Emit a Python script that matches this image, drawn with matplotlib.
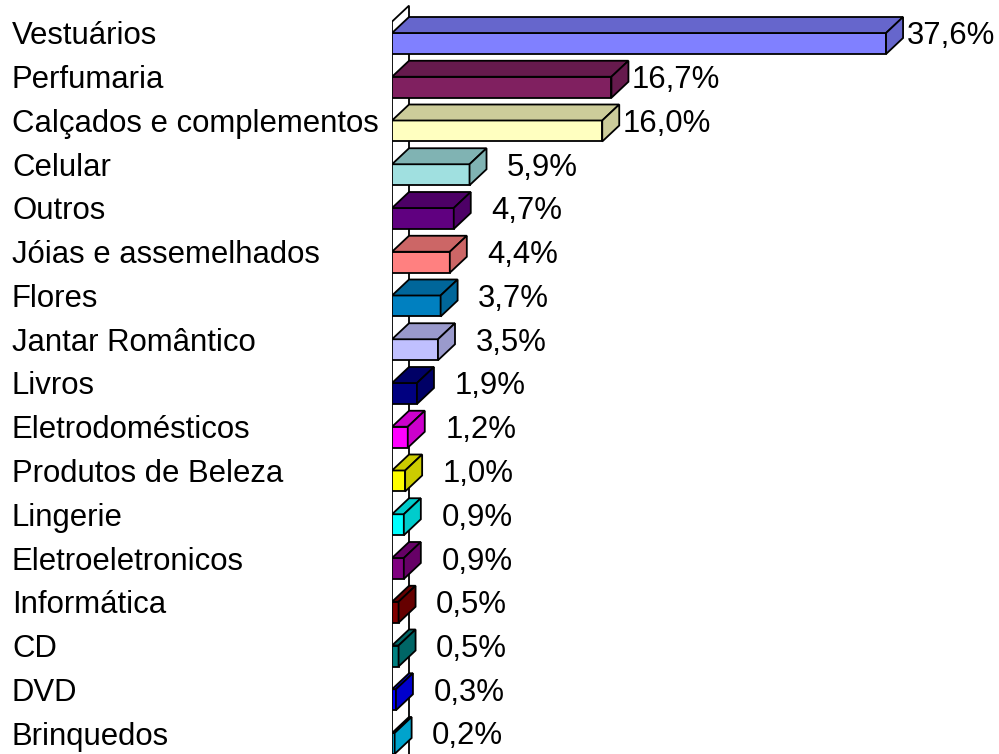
import matplotlib
matplotlib.use("Agg")
import matplotlib.pyplot as plt
from matplotlib.patches import Polygon
from matplotlib.colors import to_rgb
from matplotlib.transforms import blended_transform_factory

categories = ["Vestuários", "Perfumaria", "Calçados e complementos", "Celular",
              "Outros", "Jóias e assemelhados", "Flores", "Jantar Romântico",
              "Livros", "Eletrodomésticos", "Produtos de Beleza", "Lingerie",
              "Eletroeletronicos", "Informática", "CD", "DVD", "Brinquedos"]
values = [37.6, 16.7, 16.0, 5.9, 4.7, 4.4, 3.7, 3.5, 1.9, 1.2, 1.0, 0.9,
          0.9, 0.5, 0.5, 0.3, 0.2]
value_labels = ["37,6%", "16,7%", "16,0%", "5,9%", "4,7%", "4,4%", "3,7%",
                "3,5%", "1,9%", "1,2%", "1,0%", "0,9%", "0,9%", "0,5%",
                "0,5%", "0,3%", "0,2%"]
colors = ["#8080FF", "#802060", "#FFFFC0", "#A0E0E0", "#600080", "#FF8080",
          "#0080C0", "#C0C0FF", "#000080", "#FF00FF", "#FFFF00", "#00FFFF",
          "#800080", "#800000", "#008080", "#0000FF", "#00CCFF"]

plt.rcParams['font.family'] = ['Liberation Sans', 'DejaVu Sans']

W, H = 999, 754
fig = plt.figure(figsize=(W / 100, H / 100), dpi=100)
x0_px = 392
px_per_pct = 13.14
step_px = 43.75
first_center_px = 43.5
ax = fig.add_axes([x0_px / W, 0, (W - x0_px) / W, 1])
ax.set_xlim(0, (W - x0_px) / px_per_pct)
ax.set_ylim((H - first_center_px) / step_px, -first_center_px / step_px)
ax.axis('off')

dx = 17 / px_per_pct
dy = 16 / step_px
h = 10.5 / step_px
n = len(categories)


def shade(c, f=0.8):
    r, g, b = to_rgb(c)
    return (r * f, g * f, b * f)


lw = 1.3
# wall
top = -0.5
bot = n + 0.5
wall = Polygon([(0, top), (dx, top - dy), (dx, bot - dy), (0, bot)],
               closed=True, facecolor='white', edgecolor='black', lw=lw,
               zorder=1)
ax.add_patch(wall)

label_dy = -0.16
for i, (v, c) in enumerate(zip(values, colors)):
    yt = i - h
    yb = i + h
    front = Polygon([(0, yt), (v, yt), (v, yb), (0, yb)], closed=True,
                    facecolor=c, edgecolor='black', lw=lw, zorder=3)
    topf = Polygon([(0, yt), (v, yt), (v + dx, yt - dy), (dx, yt - dy)],
                   closed=True, facecolor=shade(c), edgecolor='black', lw=lw,
                   zorder=3)
    side = Polygon([(v, yt), (v + dx, yt - dy), (v + dx, yb - dy), (v, yb)],
                   closed=True, facecolor=shade(c), edgecolor='black', lw=lw,
                   zorder=3)
    for p in (front, topf, side):
        ax.add_patch(p)
    ax.annotate(value_labels[i], xy=(v + dx, i + label_dy), xytext=(66, 0),
                textcoords='offset points', ha='right', va='center',
                fontsize=22.4, color='black', zorder=5)

trans = blended_transform_factory(fig.transFigure, ax.transData)
for i, cat in enumerate(categories):
    fig.text(12 / W, i + label_dy, cat, transform=trans, ha='left',
             va='center', fontsize=22.4, color='black')

fig.savefig("out.png", dpi=100)
